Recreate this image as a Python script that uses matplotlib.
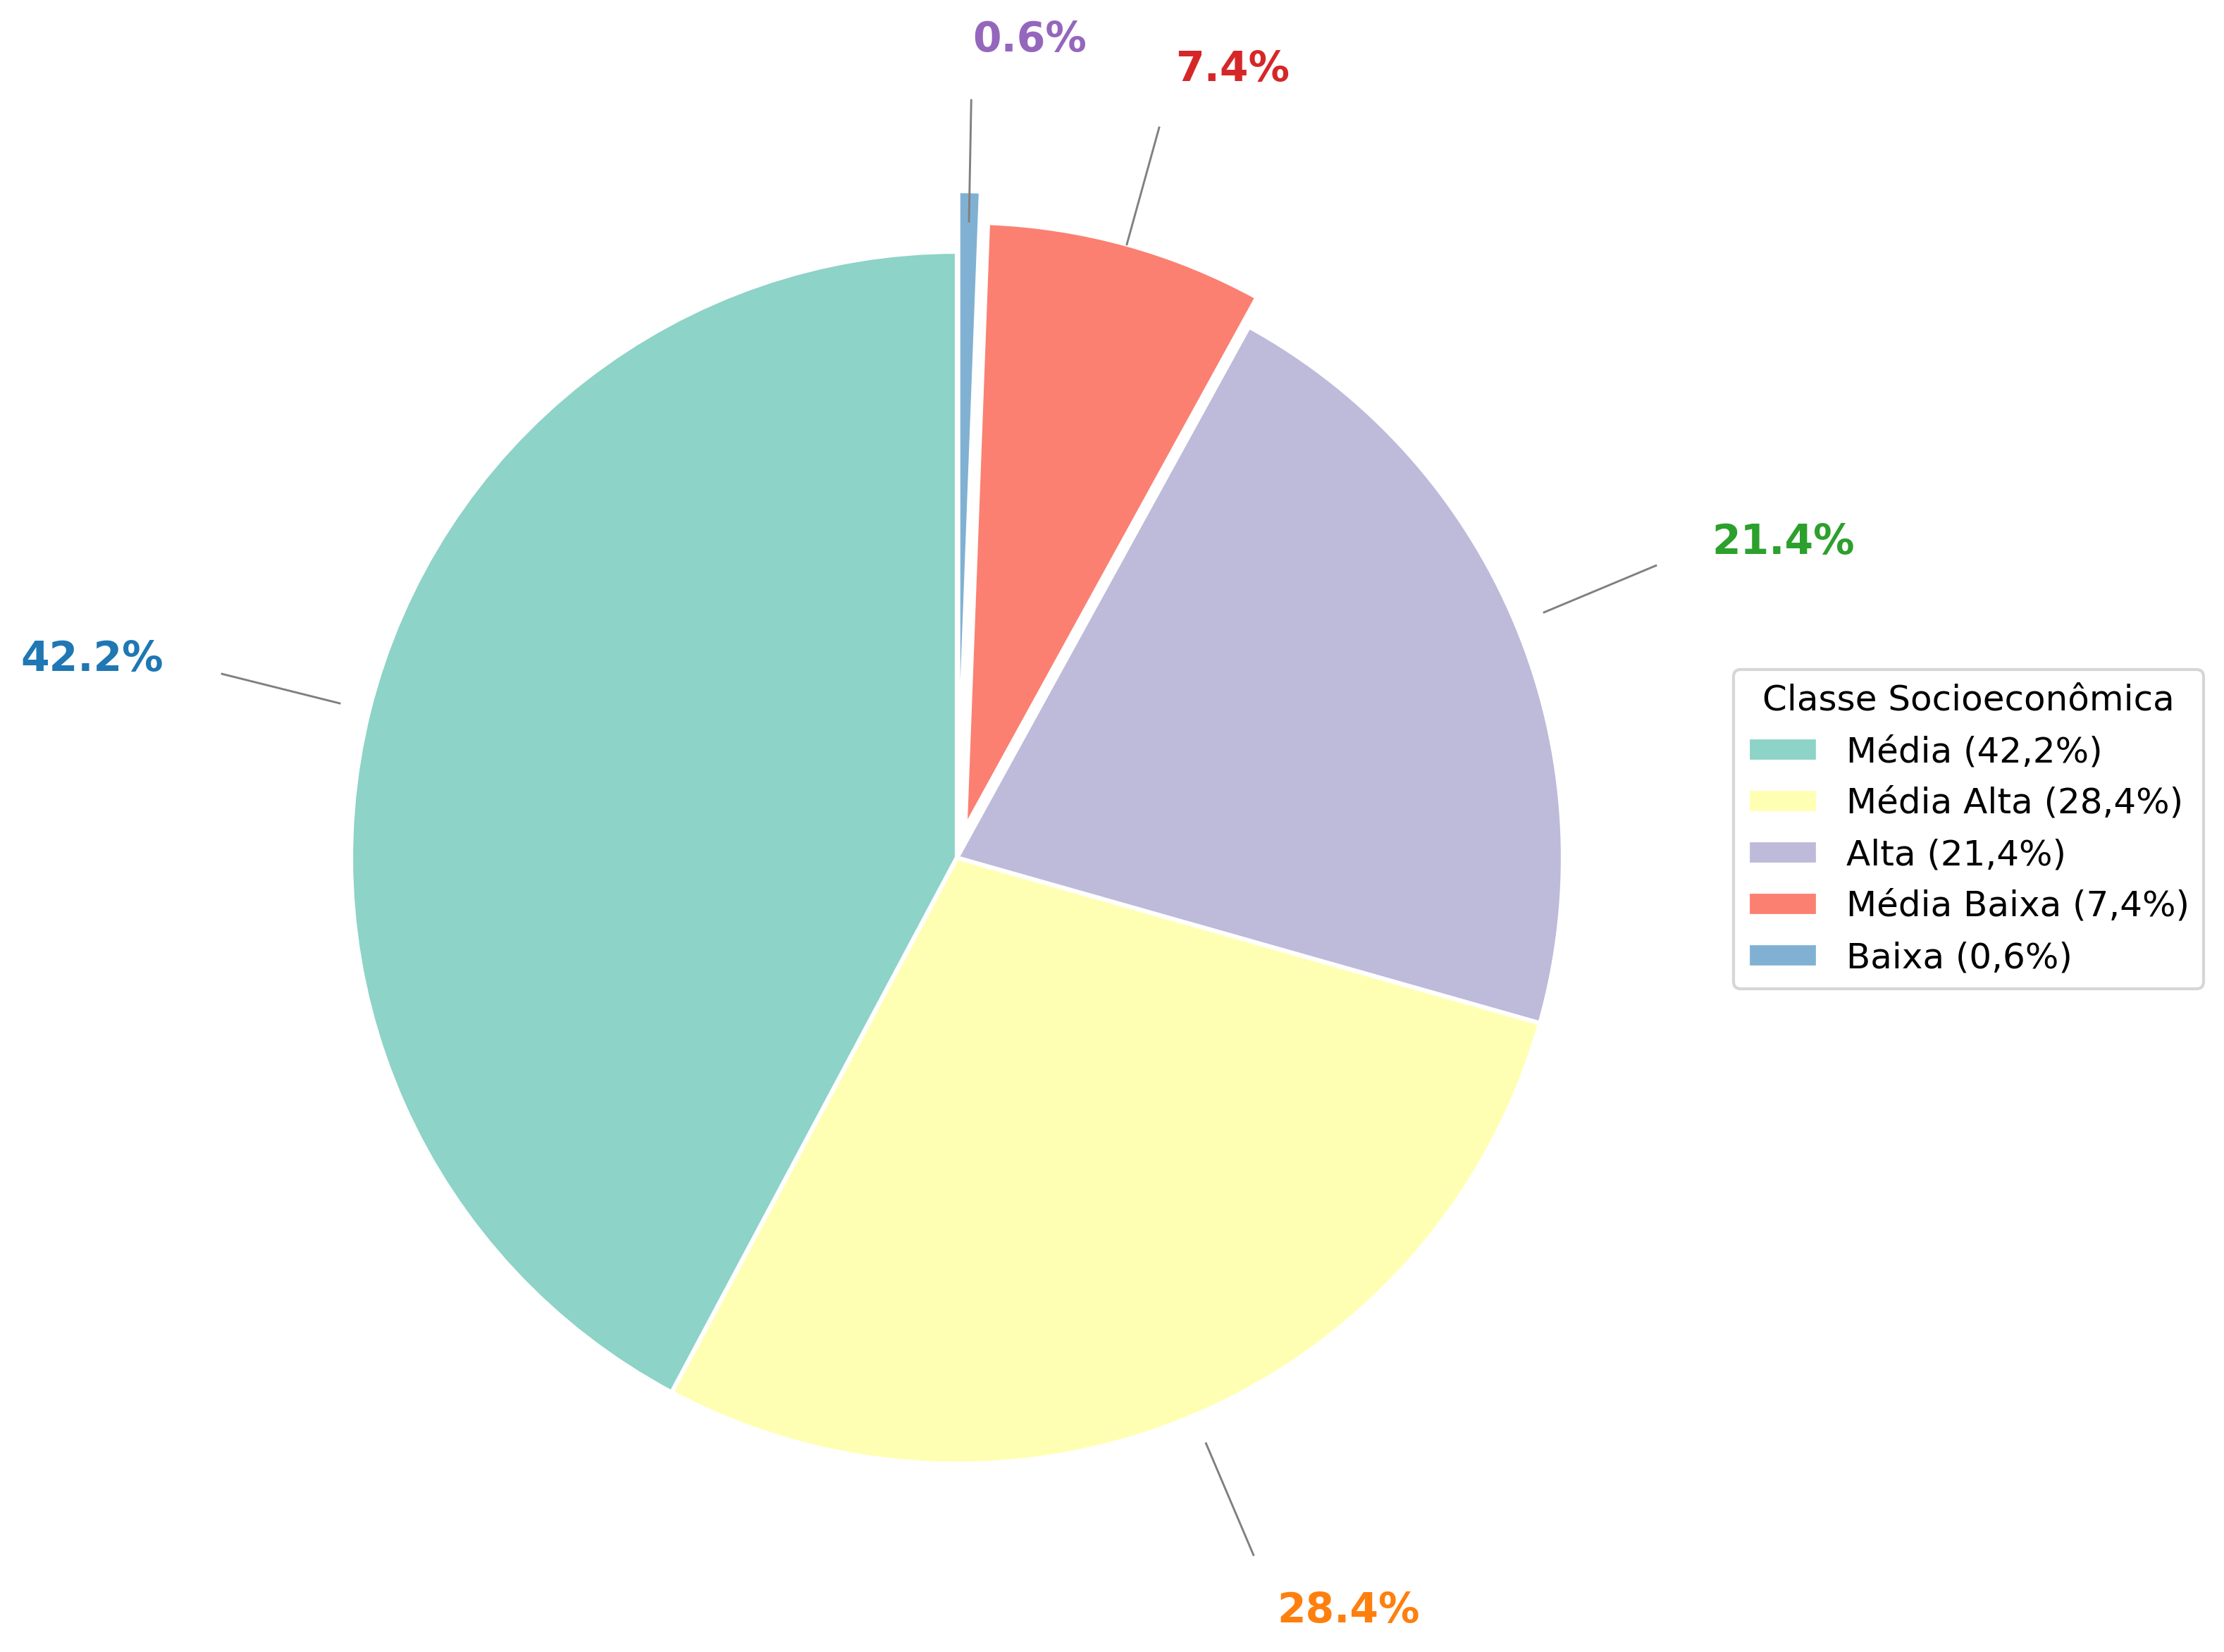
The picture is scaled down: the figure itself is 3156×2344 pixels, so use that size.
import numpy as np
import matplotlib
matplotlib.use("Agg")
import matplotlib.pyplot as plt

# data
classes = ["Média", "Média Alta", "Alta", "Média Baixa", "Baixa"]
values = [42.2, 28.4, 21.4, 7.4, 0.6]
explode = [0, 0, 0, 0.05, 0.1]

wedge_colors = plt.cm.Set3.colors[:5]
label_colors = ["tab:blue", "tab:orange", "tab:green", "tab:red", "tab:purple"]

W, H, DPI = 3156, 2344, 300
fig = plt.figure(figsize=(W / DPI, H / DPI), dpi=DPI)
ax = fig.add_axes([0, 0, 1, 1])

wedges, _ = ax.pie(values, explode=explode, colors=wedge_colors, startangle=90,
                   counterclock=True,
                   wedgeprops=dict(edgecolor="white", linewidth=1.5))

# place the pie: center (1358, 1217) px, radius ~860 px
cx, cy, rpx = 1358, 1217, 860
ax.set_xlim(-cx / rpx, (W - cx) / rpx)
ax.set_ylim(-(H - cy) / rpx, cy / rpx)
ax.set_aspect("equal")
ax.axis("off")

# percent labels with leader lines
total = sum(values)
start = 90.0
for v, col in zip(values, label_colors):
    span = v / total * 360
    mid = np.deg2rad(start + span / 2)
    start += span
    c, s = np.cos(mid), np.sin(mid)
    ax.plot([1.05 * c, 1.25 * c], [1.05 * s, 1.25 * s], color="gray", lw=0.7)
    ha = "left" if c >= 0 else "right"
    ax.text(1.35 * c, 1.35 * s, f"{v:.1f}%", ha=ha, va="center",
            fontsize=14, fontweight="bold", color=col)

leg_labels = [f"{n} ({str(v).replace('.', ',')}%)" for n, v in zip(classes, values)]
fig.legend(wedges, leg_labels, title="Classe Socioeconômica", loc="upper left",
           bbox_to_anchor=(2460 / W, 1 - 950 / H), borderaxespad=0,
           fontsize=12, title_fontsize=12)

fig.savefig("out.png", dpi=DPI)
